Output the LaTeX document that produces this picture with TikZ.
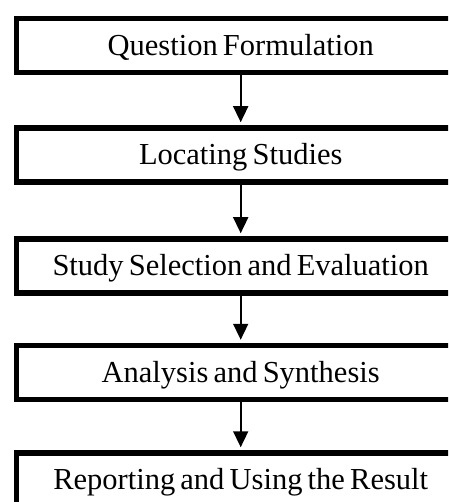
\documentclass[tikz,border=0pt]{standalone}
\usepackage{fontspec}
\setmainfont{Liberation Serif}
\usetikzlibrary{arrows.meta}
\newcommand\stepfont{\fontsize{30.5}{34}\selectfont\spaceskip=0.17em plus 0.05em minus 0.05em\relax}
\tikzset{
  stepbox/.style={draw=black, line width=5.5pt, rectangle, minimum width=448.8pt, minimum height=54pt,
    inner sep=0pt, text height=19.5pt, text depth=0pt, font=\stepfont},
  flowarrow/.style={line width=1.6pt, -{Triangle[width=15pt,length=16pt]}, shorten >=3pt}
}
\begin{document}
\begin{tikzpicture}[x=1pt,y=-1pt]
\useasboundingbox (0,0) rectangle (448,502);
\clip (0,0) rectangle (448,502);
\node[stepbox] (q) at (240.7,45.7) {Question Formulation};
\node[stepbox] (l) at (240.7,155) {Locating Studies};
\node[stepbox] (s) at (240.7,266) {Study Selection and Evaluation};
\node[stepbox] (a) at (240.7,372.5) {Analysis and Synthesis};
\node[stepbox] (r) at (240.7,480) {Reporting and Using the Result};
\draw[flowarrow] (q.south) -- (l.north);
\draw[flowarrow] (l.south) -- (s.north);
\draw[flowarrow] (s.south) -- (a.north);
\draw[flowarrow] (a.south) -- (r.north);
\end{tikzpicture}
\end{document}
